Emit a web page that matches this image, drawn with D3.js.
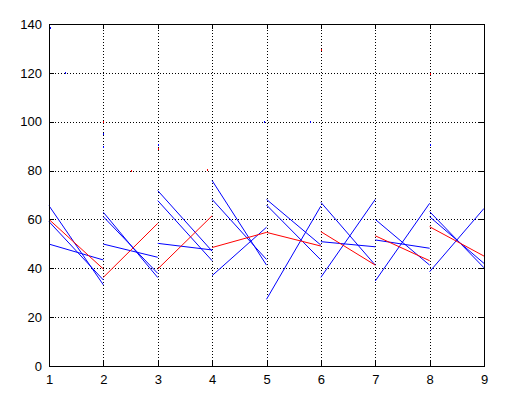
<!DOCTYPE html>
<html>
<head>
<meta charset="utf-8">
<script src="https://cdn.jsdelivr.net/npm/d3@7/dist/d3.min.js"></script>
<style>
  html, body { margin: 0; padding: 0; background: #fff; }
  svg { display: block; }
  text { font-family: "Liberation Sans", Arial, Helvetica, sans-serif; font-size: 13px; fill: #000; }
</style>
</head>
<body>
<svg id="chart" width="518" height="402"></svg>
<script>
// ---- data ----
const xTicks = [1, 2, 3, 4, 5, 6, 7, 8, 9];
const yTicks = [0, 20, 40, 60, 80, 100, 120, 140];
const intervalStarts = [1, 2, 3, 4, 5, 6, 7, 8];
// each entry: [value at interval start, value at interval end]
const blueA = [[65.6, 33.2], [62.9, 36.2], [71.8, 47.0], [75.9, 41.3], [68.2, 49.5], [67.0, 41.3], [60.0, 41.3], [63.2, 40.2]];
const blueB = [[59.1, 35.2], [61.1, 37.9], [67.7, 43.1], [68.2, 43.6], [65.9, 43.4], [50.9, 48.8], [51.6, 48.2], [61.1, 42.0]];
const blueC = [[49.9, 43.4], [49.9, 44.5], [50.2, 47.5], [37.0, 56.8], [27.3, 65.5], [36.3, 68.2], [34.8, 66.6], [38.6, 64.5]];
const redLine = [[60.0, 39.7], [36.3, 58.4], [39.7, 61.5], [48.5, 54.7], [54.7, 49.1], [55.0, 41.3], [53.3, 43.1], [57.0, 45.0]];
// small stray specks visible in the figure
const speckX = [1.02, 2, 2, 2, 2.5, 3, 3, 1.3, 6, 8, 8, 4.95, 5.8, 1, 3.9];
const speckY = [138.5, 100, 95, 89.5, 80, 90.5, 89, 120, 129.5, 119.5, 90.5, 100, 100, 46, 80.3];
const speckC = ["blue", "red", "blue", "blue", "red", "blue", "red", "blue", "red", "red", "blue", "blue", "blue", "blue", "red"];

// ---- layout ----
const margin = { left: 49, top: 24, right: 34, bottom: 36 };
const W = 518, H = 402;
const svg = d3.select("#chart");
const x = d3.scaleLinear().domain([1, 9]).range([margin.left, W - margin.right]);
const y = d3.scaleLinear().domain([0, 140]).range([H - margin.bottom, margin.top]);
const x0 = x.range()[0], x1 = x.range()[1], y0 = y.range()[0], y1 = y.range()[1];

// grid
const grid = svg.append("g").attr("shape-rendering", "crispEdges");
grid.selectAll("line.vg").data(xTicks.slice(1, -1)).join("line")
  .attr("x1", d => Math.round(x(d)) + 0.5).attr("x2", d => Math.round(x(d)) + 0.5)
  .attr("y1", y1).attr("y2", y0)
  .attr("stroke", "#000").attr("stroke-width", 1).attr("stroke-dasharray", "1,2");
grid.selectAll("line.hg").data(yTicks.slice(1, -1)).join("line")
  .attr("x1", x0).attr("x2", x1)
  .attr("y1", d => Math.round(y(d)) + 0.5).attr("y2", d => Math.round(y(d)) + 0.5)
  .attr("stroke", "#000").attr("stroke-width", 1).attr("stroke-dasharray", "1,2");

// data segments
function drawSegs(arr, color) {
  svg.append("g").selectAll("line").data(arr).join("line")
    .attr("x1", (d, i) => x(intervalStarts[i]))
    .attr("x2", (d, i) => x(intervalStarts[i] + 1))
    .attr("y1", d => y(d[0]))
    .attr("y2", d => y(d[1]))
    .attr("stroke", color).attr("stroke-width", 1);
}
drawSegs(blueA, "#0000ff");
drawSegs(blueB, "#0000ff");
drawSegs(blueC, "#0000ff");
drawSegs(redLine, "#ff0000");

// specks
svg.append("g").attr("shape-rendering", "crispEdges").selectAll("rect").data(speckX).join("rect")
  .attr("x", d => Math.round(x(d))).attr("y", (d, i) => Math.round(y(speckY[i])) - 1)
  .attr("width", 1).attr("height", 2).attr("fill", (d, i) => speckC[i]);

// axes
const axisG = svg.append("g").attr("shape-rendering", "crispEdges");
const xb = d3.axisBottom(x).tickValues(xTicks).tickSize(-5).tickSizeOuter(0).tickPadding(9).tickFormat(d3.format("d"));
const xt = d3.axisTop(x).tickValues(xTicks).tickSize(-5).tickSizeOuter(0).tickFormat("");
const yl = d3.axisLeft(y).tickValues(yTicks).tickSize(-5).tickSizeOuter(0).tickPadding(7).tickFormat(d3.format("d"));
const yr = d3.axisRight(y).tickValues(yTicks).tickSize(-5).tickSizeOuter(0).tickFormat("");
function styleAxis(g) {
  g.selectAll("path.domain").attr("stroke", "#000").attr("stroke-width", 1);
  g.selectAll(".tick line").attr("stroke", "#000");
  g.selectAll("text").attr("fill", "#000").style("font-size", "13px")
    .style("font-family", '"Liberation Sans", Arial, Helvetica, sans-serif');
}
axisG.append("g").attr("transform", `translate(0,${y0})`).call(xb).call(styleAxis);
axisG.append("g").attr("transform", `translate(0,${y1})`).call(xt).call(styleAxis);
axisG.append("g").attr("transform", `translate(${x0},0)`).call(yl).call(styleAxis);
axisG.append("g").attr("transform", `translate(${x1},0)`).call(yr).call(styleAxis);
</script>
</body>
</html>
